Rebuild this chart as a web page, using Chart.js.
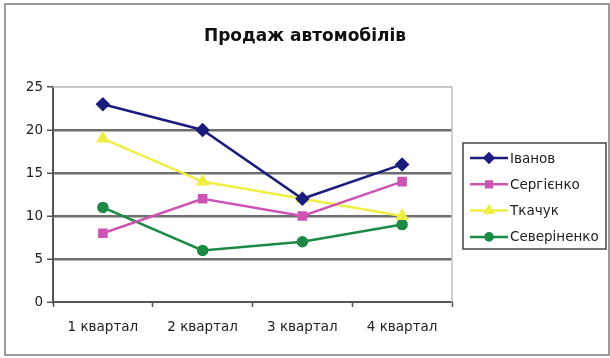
<!DOCTYPE html>
<html><head><meta charset="utf-8">
<script src="https://cdn.jsdelivr.net/npm/chart.js@4/dist/chart.umd.min.js"></script>
<style>html,body{margin:0;padding:0;background:#fff}#wrap{width:610px;height:358px}</style>
</head><body><div id="wrap"><canvas id="c" width="610" height="358"></canvas></div>
<script>
const title = 'Продаж автомобілів';
const categories = ['1 квартал', '2 квартал', '3 квартал', '4 квартал'];
const seriesNames = ['Іванов', 'Сергієнко', 'Ткачук', 'Северіненко'];
const ivanov = [23, 20, 12, 16];
const serhiienko = [8, 12, 10, 14];
const tkachuk = [19, 14, 12, 10];
const severinenko = [11, 6, 7, 9];
const yTicks = [0, 5, 10, 15, 20, 25];

const colors = ['#1c1c7c', '#cc55b4', '#eeee44', '#1c8a44'];
const markers = ['rectRot', 'rect', 'triangle', 'circle'];
const radii = [5.5, 5, 5.5, 4.5];
const values = [ivanov, serhiienko, tkachuk, severinenko];
const FONT = 'DejaVu Sans';

const decor = {
  id: 'decor',
  beforeDatasetsDraw(chart) {
    const {ctx, chartArea: a} = chart;
    ctx.save();
    ctx.strokeStyle = '#c4c4c4';
    ctx.lineWidth = 1.5;
    ctx.beginPath();
    ctx.moveTo(a.left, a.top); ctx.lineTo(a.right, a.top); ctx.lineTo(a.right, a.bottom);
    ctx.stroke();
    ctx.restore();
  },
  afterDraw(chart) {
    const {ctx} = chart;
    ctx.save();
    // outer border
    ctx.strokeStyle = '#9a9a9a';
    ctx.lineWidth = 2;
    ctx.strokeRect(5, 4, 604, 351);
    // legend
    const lx = 463, ly = 143, lw = 143, lh = 106;
    ctx.strokeStyle = '#444';
    ctx.lineWidth = 1.5;
    ctx.strokeRect(lx, ly, lw, lh);
    ctx.font = '13.5px "' + FONT + '"';
    ctx.textBaseline = 'middle';
    ctx.textAlign = 'left';
    chart.data.datasets.forEach((ds, i) => {
      const y = 158 + i * 26.3;
      ctx.strokeStyle = ds.borderColor;
      ctx.lineWidth = 2.5;
      ctx.beginPath(); ctx.moveTo(470, y); ctx.lineTo(508, y); ctx.stroke();
      Chart.helpers.drawPoint(ctx, {pointStyle: ds.pointStyle, radius: ds.pointRadius * 0.8, borderWidth: 1, rotation: 0}, 489, y);
      ctx.fillStyle = ds.borderColor;
      ctx.fill();
      ctx.fillStyle = '#222';
      ctx.fillText(ds.label, 510, y + 1);
    });
    ctx.restore();
  }
};

new Chart(document.getElementById('c'), {
  type: 'line',
  data: {
    labels: categories,
    datasets: seriesNames.map((n, i) => ({
      label: n,
      data: values[i],
      borderColor: colors[i],
      backgroundColor: colors[i],
      pointBackgroundColor: colors[i],
      pointBorderColor: colors[i],
      pointStyle: markers[i],
      pointRadius: radii[i],
      borderWidth: 2.5,
      tension: 0,
      fill: false
    }))
  },
  options: {
    responsive: false,
    animation: false,
    devicePixelRatio: 1,
    layout: {padding: 0},
    plugins: {
      legend: {display: false},
      tooltip: {enabled: false},
      title: {
        display: true,
        text: title,
        color: '#111',
        font: {family: FONT, size: 17, weight: 'bold'},
        padding: {top: 26, bottom: 40.6}
      }
    },
    scales: {
      x: {
        offset: true,
        grid: {offset: true, drawOnChartArea: false, drawTicks: true, tickLength: 5, tickColor: '#555', tickWidth: 1.5},
        border: {color: '#555', width: 2},
        ticks: {color: '#222', font: {family: FONT, size: 13.5}, padding: 12, maxRotation: 0},
        afterFit(s) { s.height = 56; }
      },
      y: {
        min: 0, max: 25,
        afterBuildTicks(s) { s.ticks = yTicks.map(v => ({value: v})); },
        grid: {
          color: c => (c.tick && c.tick.value === 25) ? '#c4c4c4' : (c.tick && c.tick.value === 0 ? 'rgba(0,0,0,0)' : '#6e6e6e'),
          lineWidth: c => (c.tick && c.tick.value === 25) ? 1.5 : 2.5,
          tickColor: '#555', tickLength: 6, tickWidth: 1.5
        },
        border: {color: '#555', width: 2},
        ticks: {color: '#222', font: {family: FONT, size: 13.5}, padding: 4},
        afterFit(s) { s.width = 53; }
      },
      ySpacer: {
        position: 'right',
        display: true,
        grid: {display: false, drawTicks: false},
        border: {display: false},
        ticks: {display: false},
        afterFit(s) { s.width = 158; }
      }
    }
  },
  plugins: [decor]
});
</script>
</body></html>
